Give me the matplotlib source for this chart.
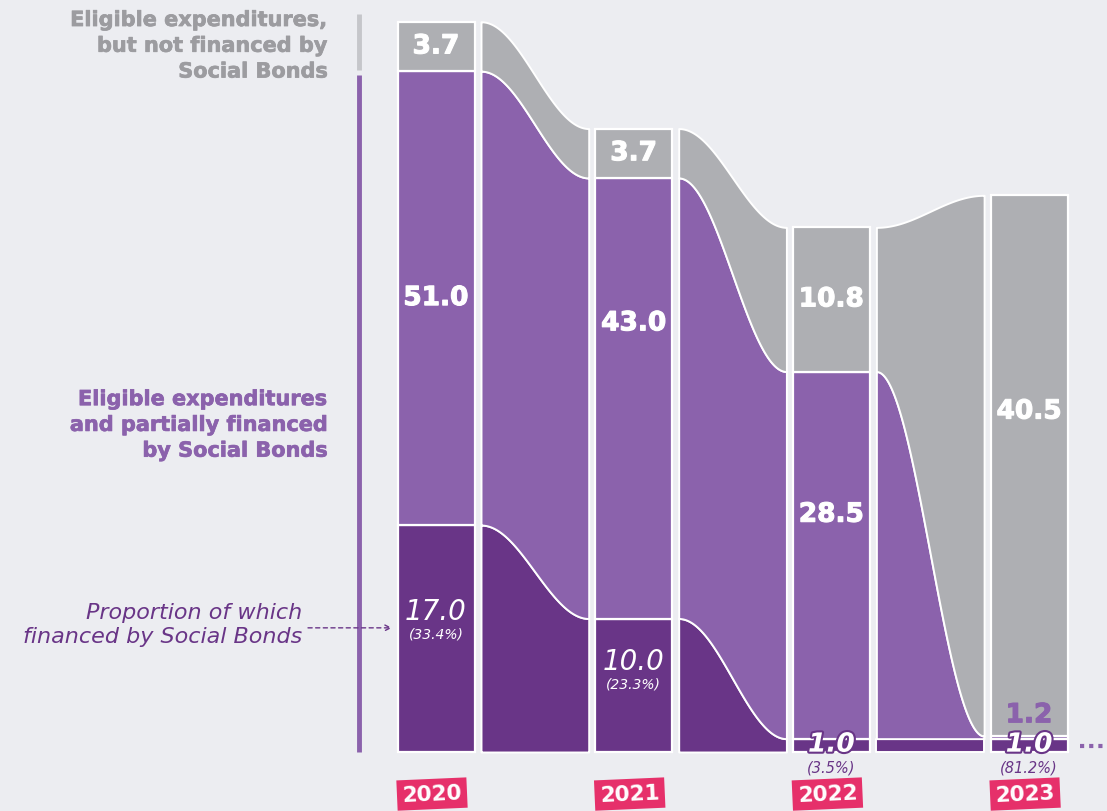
import matplotlib.pyplot as plt
import matplotlib.patheffects as pe
import numpy as np

# values in EUR bn, per year
years = ["2020", "2021", "2022", "2023"]
not_financed = [3.7, 3.7, 10.8, 40.5]
partially_financed = [51.0, 43.0, 28.5, 1.2]
financed_sb = [17.0, 10.0, 1.0, 1.0]
financed_pct = [33.4, 23.3, 3.5, 81.2]

BG = "#ECEDF1"
GRAY = "#AEAFB3"
LIGHT = "#8B62AC"
DARK = "#693587"
PINK = "#E6306A"
GRAY_TXT = "#9C9CA0"

# layout (x in pixels, y in value units)
W, H = 1107, 812
PX_PER_UNIT = 13.35
BASE_PX = 753
X0, STEP, BAR_W, GAP = 436, 197.7, 77, 6.5
centers = [X0 + i * STEP for i in range(len(years))]

y_top = BASE_PX / PX_PER_UNIT
y_bot = -(H - BASE_PX) / PX_PER_UNIT

fig = plt.figure(figsize=(W / 100, H / 100), dpi=100)
fig.patch.set_facecolor(BG)
ax = fig.add_axes([0, 0, 1, 1])
ax.set_facecolor(BG)
ax.set_xlim(0, W)
ax.set_ylim(y_bot, y_top)
ax.axis("off")

light_part = [p - f for p, f in zip(partially_financed, financed_sb)]
layers = [(financed_sb, DARK), (light_part, LIGHT), (not_financed, GRAY)]

# stacked bars
bottoms = np.zeros(len(years))
for vals, col in layers:
    ax.bar(centers, vals, width=BAR_W, bottom=bottoms, color=col,
           edgecolor="white", linewidth=1.6, zorder=3)
    bottoms += np.array(vals)

# cumulative boundaries used for the flows
bounds = [np.zeros(len(years))]
for vals, _ in layers:
    bounds.append(bounds[-1] + np.array(vals))


def ease(t):
    return (1 - np.cos(np.pi * t)) / 2


t = np.linspace(0, 1, 200)
for i in range(len(years) - 1):
    xa = centers[i] + BAR_W / 2 + GAP
    xb = centers[i + 1] - BAR_W / 2 - GAP
    xs = xa + (xb - xa) * t
    for k, (_, col) in enumerate(layers):
        lo = bounds[k][i] + (bounds[k][i + 1] - bounds[k][i]) * ease(t)
        hi = bounds[k + 1][i] + (bounds[k + 1][i + 1] - bounds[k + 1][i]) * ease(t)
        ax.fill_between(xs, lo, hi, color=col, edgecolor="white",
                        linewidth=1.4, zorder=2)

# heavier look for the bold figures
thick_w = [pe.withStroke(linewidth=0.8, foreground="white")]
thick_l = [pe.withStroke(linewidth=0.8, foreground=LIGHT)]

big = dict(color="white", fontsize=19, fontweight="bold", ha="center",
           va="center", zorder=5, path_effects=thick_w)
light_frac = [0.5, 0.67, 0.61]
for i in range(3):
    ax.text(centers[i], bounds[2][i] + not_financed[i] / 2,
            f"{not_financed[i]:.1f}", **big)
    y = financed_sb[i] + light_part[i] * light_frac[i]
    ax.text(centers[i], y, f"{partially_financed[i]:.1f}", **big)
ax.text(centers[3], partially_financed[3] + not_financed[3] * 0.6,
        f"{not_financed[3]:.1f}", **big)
ax.text(centers[3], partially_financed[3] + 1.55, f"{partially_financed[3]:.1f}",
        color=LIGHT, fontsize=19, fontweight="bold", ha="center", va="center",
        zorder=5, path_effects=thick_l)

# financed-by-bonds labels
dark_frac = [0.62, 0.68]
for i in range(2):
    y = financed_sb[i] * dark_frac[i]
    ax.text(centers[i], y, f"{financed_sb[i]:.1f}", color="white", fontsize=20,
            style="italic", ha="center", va="center", zorder=5)
    ax.text(centers[i], y - 1.7, f"({financed_pct[i]}%)", color="white",
            fontsize=10, style="italic", ha="center", va="center", zorder=5)
for i in range(2, 4):
    ax.text(centers[i], financed_sb[i] * 0.55, f"{financed_sb[i]:.1f}",
            color="white", fontsize=19, style="italic", fontweight="bold",
            ha="center", va="center", zorder=6,
            path_effects=[pe.withStroke(linewidth=3, foreground=DARK)])
    ax.text(centers[i], -1.1, f"({financed_pct[i]}%)", color=DARK,
            fontsize=10.5, style="italic", ha="center", va="center", zorder=5)

# year tags
for c, yr in zip(centers, years):
    ax.text(c - 4, -3.15, yr, color="white", fontsize=15.5, fontweight="bold",
            ha="center", va="center", rotation=2.5, zorder=5,
            bbox=dict(boxstyle="square,pad=0.24", fc=PINK, ec="none"))

# left legend line
LX = 359
ax.plot([LX, LX], [0, partially_financed[0] - 0.3], color=LIGHT, lw=3.5,
        solid_capstyle="butt")
ax.plot([LX, LX], [partially_financed[0] + 0.1,
                   partially_financed[0] + not_financed[0] + 0.6],
        color="#C5C6CA", lw=3.5, solid_capstyle="butt")

lab_g = [pe.withStroke(linewidth=0.5, foreground=GRAY_TXT)]
lab_l = [pe.withStroke(linewidth=0.5, foreground=LIGHT)]
ax.text(328, 52.9, "Eligible expenditures,\nbut not financed by\nSocial Bonds",
        color=GRAY_TXT, fontsize=15, fontweight="bold", ha="right", va="center",
        linespacing=1.36, path_effects=lab_g)
ax.text(328, 24.5, "Eligible expenditures\nand partially financed\nby Social Bonds",
        color=LIGHT, fontsize=15, fontweight="bold", ha="right", va="center",
        linespacing=1.36, path_effects=lab_l)
ax.text(302, 9.6, "Proportion of which\nfinanced by Social Bonds",
        color=DARK, fontsize=16, style="italic", ha="right", va="center",
        linespacing=1.25)

ax.annotate("", xy=(392, 9.3), xytext=(308, 9.3),
            arrowprops=dict(arrowstyle="->", color=DARK, lw=1, ls=(0, (3, 2.5)),
                            shrinkA=0, shrinkB=0))

# dotted continuation after the last bar
ax.plot([centers[3] + BAR_W / 2 + 12, W], [0.45, 0.45], color=LIGHT, lw=3,
        ls=(0, (1, 1.2)))

fig.savefig("out.png", dpi=100, facecolor=BG)
